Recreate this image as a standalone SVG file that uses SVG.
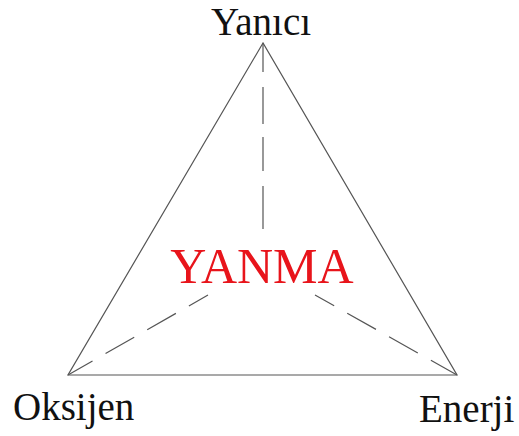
<svg xmlns="http://www.w3.org/2000/svg" width="519" height="436" viewBox="0 0 519 436">
<style>
.edge{stroke:#555;stroke-width:1.2;fill:none}
.dash{stroke:#555;stroke-width:1.2;fill:none;stroke-dasharray:33 15;stroke-dashoffset:11}
.lbl{font-family:"Liberation Serif",serif;font-size:39px;fill:#111}
.mid{font-family:"Liberation Serif",serif;font-size:50px;fill:#e8141b}
</style>
<rect width="519" height="436" fill="#fff"/>
<g id="connectors">
<polygon class="edge" points="263,43 68,375 457,375"/>
<line class="dash" style="stroke-dasharray:40 15 37 13 34 15 43" x1="263" y1="43" x2="263" y2="240"/>
<line class="dash" x1="208" y1="295" x2="68" y2="375"/>
<line class="dash" x1="315" y1="295" x2="457" y2="375"/>
</g>
<g id="yanici"><text class="lbl" x="261" y="35" text-anchor="middle">Yanıcı</text></g>
<g id="oksijen"><text class="lbl" x="13" y="420">Oksijen</text></g>
<g id="enerji"><text class="lbl" x="419" y="422">Enerji</text></g>
<g id="yanma"><text class="mid" x="262" y="283" text-anchor="middle">YANMA</text></g>
</svg>
